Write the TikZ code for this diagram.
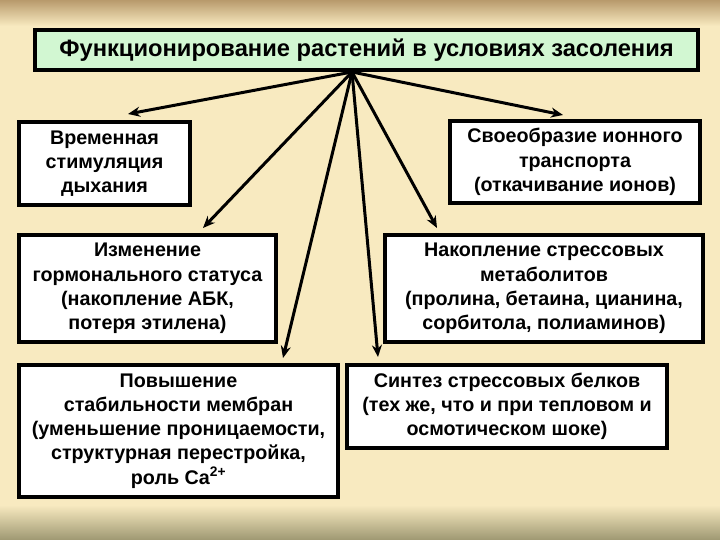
\documentclass[tikz,border=0pt]{standalone}
\usepackage{fontspec}
\setmainfont{Liberation Sans}
\usetikzlibrary{arrows.meta}
\definecolor{bgcream}{HTML}{F8EAC0}
\definecolor{bgtop}{HTML}{B89A6C}
\definecolor{bgbot}{HTML}{9E9872}
\definecolor{titlegreen}{HTML}{D2F7D2}
\tikzset{
  box/.style={draw=black, line width=3.2bp, fill=white, align=center, inner sep=0pt,
    font=\bfseries\fontsize{19.8}{24.3}\selectfont},
  titlebox/.style={box, fill=titlegreen, font=\bfseries\fontsize{23.8}{27}\selectfont},
  arr/.style={line width=3bp, -{Stealth[length=12bp,width=10bp]}}
}
\begin{document}
\begin{tikzpicture}[x=1bp,y=-1bp]
\useasboundingbox (0,0) rectangle (720,540);
\fill[bgcream] (0,0) rectangle (720,540);
\shade[top color=bgtop, bottom color=bgcream] (0,0) rectangle (720,26);
\shade[top color=bgcream, bottom color=bgbot] (0,505) rectangle (720,540);

\node[titlebox, minimum width=663bp, minimum height=40bp] (title) at (366.5,50)
  {Функционирование растений в условиях засоления};

\node[box, minimum width=171bp, minimum height=83bp] (b1) at (104.5,163.5)
  {Временная\\стимуляция\\дыхания};
\node[box, minimum width=257bp, minimum height=107bp] (b2) at (147.5,288.5)
  {Изменение\\гормонального статуса\\(накопление АБК,\\потеря этилена)};
\node[box, minimum width=319bp, minimum height=132bp] (b3) at (178.5,431)
  {Повышение\\стабильности мембран\\(уменьшение проницаемости,\\структурная перестройка,\\роль Ca\textsuperscript{2+}};
\node[box, minimum width=250bp, minimum height=82bp] (b4) at (575,162)
  {Своеобразие ионного\\транспорта\\(откачивание ионов)};
\node[box, minimum width=318bp, minimum height=107bp] (b5) at (544,288.5)
  {Накопление стрессовых\\метаболитов\\(пролина, бетаина, цианина,\\сорбитола, полиаминов)};
\node[box, minimum width=320bp, minimum height=83bp] (b6) at (507,406.5)
  {Синтез стрессовых белков\\(тех же, что и при тепловом и\\осмотическом шоке)};

\coordinate (src) at (352,72);
\coordinate (t1) at (128,114);
\coordinate (t2) at (203,228);
\coordinate (t3) at (283,358);
\coordinate (t6) at (378,357);
\coordinate (t5) at (437,228);
\coordinate (t4) at (563,115);
\foreach \t in {t1,t2,t3,t4,t5,t6} \draw[arr] (src) -- (\t);
\end{tikzpicture}
\end{document}
